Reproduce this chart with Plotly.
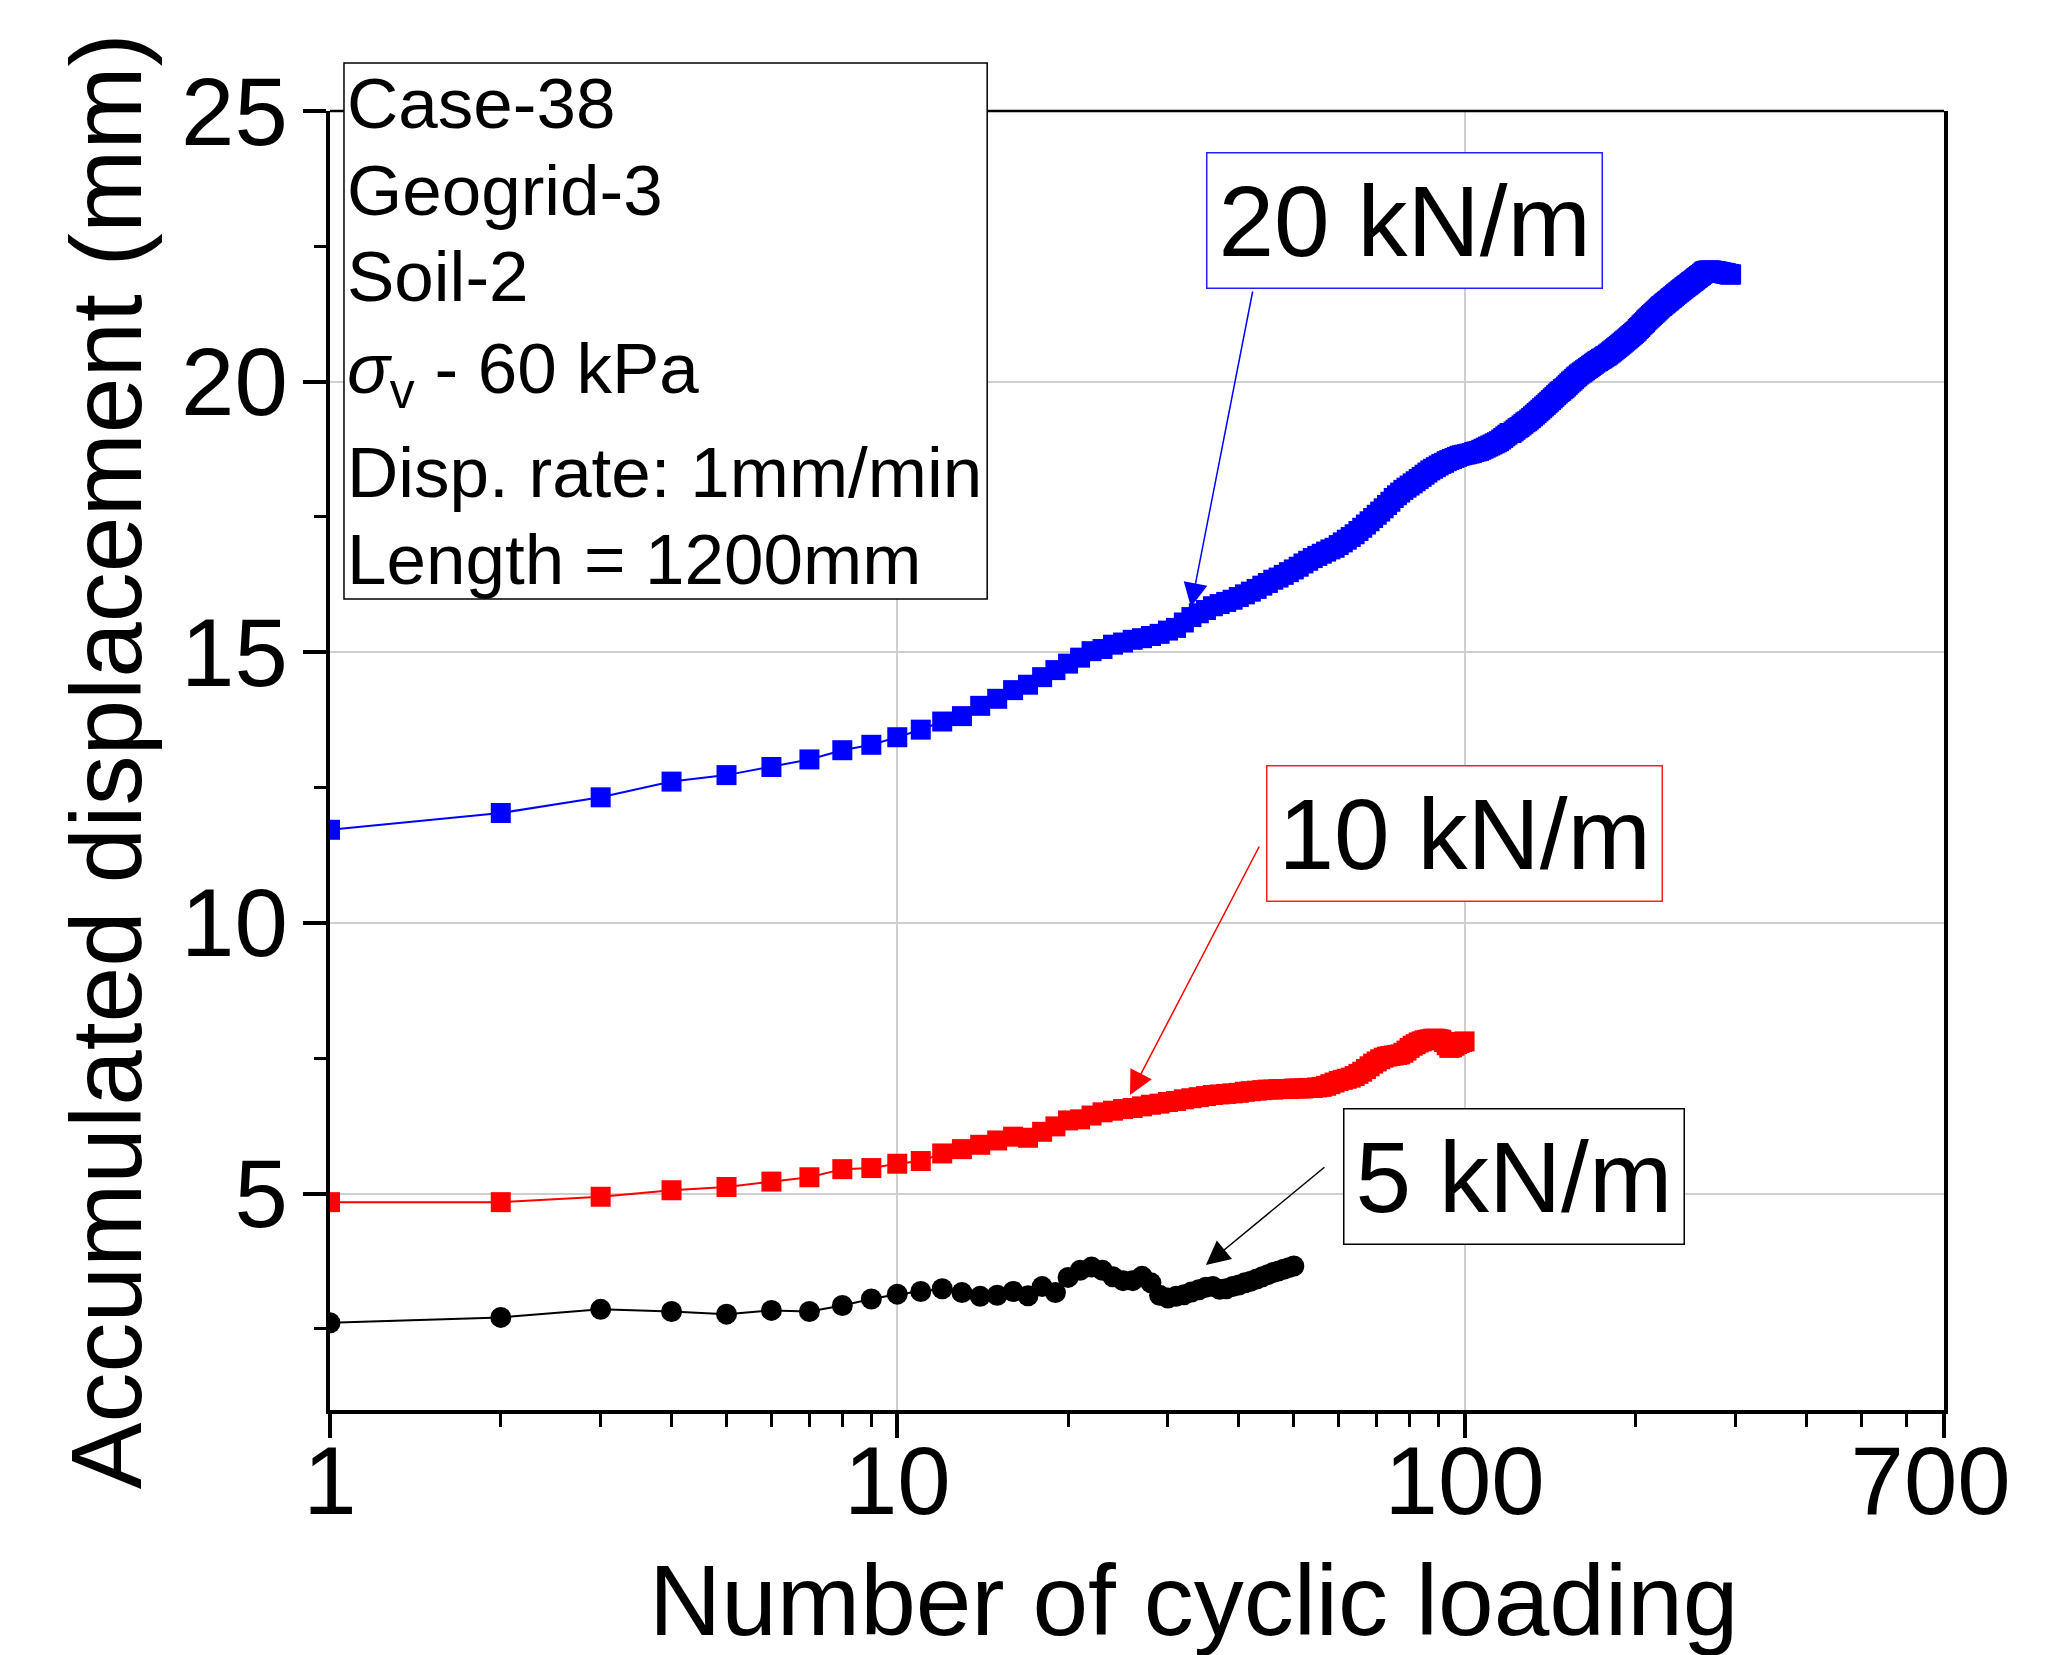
import plotly.graph_objects as go

# ---------------- data ----------------
disp_20 = [
    11.72, 12.03, 12.32, 12.61, 12.73, 12.88, 13.02, 13.19, 13.29, 13.43,
    13.57, 13.72, 13.82, 14.01, 14.14, 14.30, 14.40, 14.54, 14.67, 14.79,
    14.90, 15.02, 15.06, 15.14, 15.18, 15.23, 15.26, 15.30, 15.34, 15.40,
    15.45, 15.55, 15.65, 15.72, 15.78, 15.85, 15.89, 15.93, 15.97, 16.02,
    16.07, 16.12, 16.17, 16.23, 16.28, 16.34, 16.38, 16.43, 16.48, 16.53,
    16.58, 16.64, 16.69, 16.74, 16.78, 16.82, 16.86, 16.90, 16.93, 16.98,
    17.03, 17.08, 17.13, 17.18, 17.24, 17.30, 17.36, 17.42, 17.48, 17.54,
    17.60, 17.66, 17.72, 17.78, 17.85, 17.90, 17.95, 18.00, 18.04, 18.08,
    18.12, 18.16, 18.20, 18.24, 18.28, 18.32, 18.36, 18.39, 18.42, 18.45,
    18.48, 18.50, 18.53, 18.55, 18.57, 18.59, 18.61, 18.63, 18.64, 18.65,
    18.66, 18.67, 18.68, 18.70, 18.71, 18.72, 18.74, 18.76, 18.78, 18.80,
    18.82, 18.84, 18.86, 18.88, 18.90, 18.93, 18.96, 18.99, 19.02, 19.05,
    19.05, 19.08, 19.11, 19.14, 19.16, 19.19, 19.22, 19.25, 19.27, 19.30,
    19.33, 19.36, 19.39, 19.42, 19.45, 19.48, 19.51, 19.54, 19.57, 19.60,
    19.63, 19.66, 19.69, 19.72, 19.75, 19.78, 19.81, 19.83, 19.86, 19.88,
    19.91, 19.94, 19.97, 20.00, 20.02, 20.05, 20.08, 20.10, 20.13, 20.15,
    20.17, 20.19, 20.21, 20.23, 20.25, 20.27, 20.29, 20.31, 20.33, 20.35,
    20.37, 20.38, 20.40, 20.42, 20.43, 20.45, 20.47, 20.48, 20.50, 20.52,
    20.54, 20.56, 20.58, 20.60, 20.62, 20.64, 20.66, 20.68, 20.70, 20.72,
    20.74, 20.76, 20.78, 20.80, 20.82, 20.84, 20.86, 20.88, 20.90, 20.92,
    20.94, 20.97, 20.99, 21.01, 21.04, 21.06, 21.08, 21.10, 21.13, 21.15,
    21.17, 21.19, 21.21, 21.23, 21.25, 21.27, 21.29, 21.31, 21.33, 21.35,
    21.37, 21.39, 21.40, 21.42, 21.44, 21.45, 21.47, 21.49, 21.50, 21.52,
    21.54, 21.55, 21.57, 21.58, 21.60, 21.62, 21.63, 21.65, 21.66, 21.68,
    21.69, 21.71, 21.72, 21.74, 21.75, 21.77, 21.78, 21.79, 21.81, 21.82,
    21.84, 21.85, 21.86, 21.88, 21.89, 21.91, 21.92, 21.93, 21.95, 21.96,
    21.97, 21.99, 22.00, 22.02, 22.03, 22.04, 22.04, 22.05, 22.05, 22.05,
    22.05, 22.05, 22.05, 22.04, 22.04, 22.04, 22.04, 22.03, 22.03, 22.03,
    22.02, 22.02, 22.02, 22.01, 22.01, 22.01, 22.00, 22.00, 22.00, 21.99,
    21.99, 21.99, 21.98, 21.98, 21.98,
]

disp_10 = [
    4.84, 4.84, 4.94, 5.06, 5.12, 5.22, 5.30, 5.45, 5.47, 5.55,
    5.60, 5.74, 5.82, 5.90, 5.98, 6.05, 6.03, 6.14, 6.24, 6.35,
    6.37, 6.44, 6.50, 6.53, 6.56, 6.58, 6.61, 6.64, 6.66, 6.69,
    6.71, 6.74, 6.76, 6.78, 6.80, 6.82, 6.83, 6.84, 6.85, 6.86,
    6.88, 6.89, 6.90, 6.91, 6.92, 6.92, 6.93, 6.93, 6.93, 6.94,
    6.94, 6.94, 6.95, 6.95, 6.96, 6.97, 6.99, 7.02, 7.05, 7.08,
    7.10, 7.12, 7.14, 7.17, 7.21, 7.25, 7.30, 7.35, 7.40, 7.44,
    7.48, 7.51, 7.53, 7.54, 7.55, 7.56, 7.57, 7.60, 7.64, 7.69,
    7.73, 7.76, 7.79, 7.81, 7.83, 7.84, 7.85, 7.86, 7.86, 7.85,
    7.84, 7.80, 7.74, 7.69, 7.70, 7.73, 7.76, 7.78, 7.80, 7.81,
]

disp_5 = [
    2.61, 2.71, 2.86, 2.82, 2.77, 2.84, 2.82, 2.93, 3.05, 3.14,
    3.19, 3.24, 3.17, 3.10, 3.12, 3.19, 3.11, 3.28, 3.17, 3.45,
    3.58, 3.64, 3.58, 3.46, 3.39, 3.39, 3.47, 3.35, 3.12, 3.07,
    3.10, 3.13, 3.18, 3.22, 3.27, 3.28, 3.23, 3.24, 3.28, 3.31,
    3.35, 3.38, 3.42, 3.46, 3.50, 3.54, 3.57, 3.60, 3.63, 3.66,
]

cycles_20 = list(range(1, len(disp_20) + 1))
cycles_10 = list(range(1, len(disp_10) + 1))
cycles_5 = list(range(1, len(disp_5) + 1))

x_ticks = [1, 10, 100, 700]
x_tick_text = ["1", "10", "100", "700\u00a0"]
x_minor = [2, 3, 4, 5, 6, 7, 8, 9, 20, 30, 40, 50, 60, 70, 80, 90,
           200, 300, 400, 500, 600]
y_ticks = [5, 10, 15, 20, 25]
y_minor = [2.5, 7.5, 12.5, 17.5, 22.5]

info_lines = ["Case-38", "Geogrid-3", "Soil-2", "<i>σ</i><sub>v</sub> - 60 kPa",
              "Disp. rate: 1mm/min", "Length = 1200mm"]

# ---------------- layout geometry (pixels) ----------------
W, H = 2049, 1655
L, R, T, B = 330, 1946, 111, 1410
FONT = "Liberation Sans, Arial, sans-serif"


def pxx(p):
    return (p - L) / (R - L)


def pxy(p):
    return (B - p) / (B - T)


fig = go.Figure()

fig.add_trace(go.Scatter(
    x=cycles_5, y=disp_5, mode="lines+markers", name="5 kN/m",
    line=dict(color="black", width=2),
    marker=dict(symbol="circle", size=21, color="black"),
))
fig.add_trace(go.Scatter(
    x=cycles_10, y=disp_10, mode="lines+markers", name="10 kN/m",
    line=dict(color="#FF0000", width=2),
    marker=dict(symbol="square", size=20, color="#FF0000"),
))
fig.add_trace(go.Scatter(
    x=cycles_20, y=disp_20, mode="lines+markers", name="20 kN/m",
    line=dict(color="#0000FF", width=2),
    marker=dict(symbol="square", size=20, color="#0000FF"),
))

annotations = []

# info box text lines
line_centers = [104, 190, 276, 374, 472, 559]
for txt, yc in zip(info_lines, line_centers):
    annotations.append(dict(
        xref="paper", yref="paper", x=pxx(346), y=pxy(yc),
        xanchor="left", yanchor="middle", text=txt, showarrow=False,
        font=dict(family=FONT, size=71, color="black"), borderpad=0,
    ))

# arrows (tail -> tip)
arrows = [
    ((1254, 290), (1192, 607), "#0000FF"),
    ((1261, 845), (1131, 1095), "#FF0000"),
    ((1327, 1166), (1207, 1265), "black"),
]
for (tx, ty), (hx, hy), col in arrows:
    annotations.append(dict(
        xref="paper", yref="paper", x=pxx(hx), y=pxy(hy),
        ax=tx - hx, ay=ty - hy, axref="pixel", ayref="pixel",
        text="", showarrow=True, arrowhead=2, arrowsize=3.2, arrowwidth=1.5,
        arrowcolor=col, standoff=0,
    ))

# labelled boxes
labels = [
    ("20 kN/m", (1406, 221), "#2020FF"),
    ("10 kN/m", (1466, 833), "#FF2020"),
    ("5 kN/m", (1515, 1176), "black"),
]
for txt, (cx, cy), col in labels:
    annotations.append(dict(
        xref="paper", yref="paper", x=pxx(cx), y=pxy(cy),
        xanchor="center", yanchor="middle", text=txt, showarrow=False,
        font=dict(family=FONT, size=100, color="black"),
        bordercolor=col, borderwidth=1.5, borderpad=11, bgcolor="white",
    ))

# axis titles
annotations.append(dict(
    xref="paper", yref="paper", x=pxx(1195), y=pxy(1600),
    xanchor="center", yanchor="middle", text="Number of cyclic loading",
    showarrow=False, font=dict(family=FONT, size=100, color="black"),
))
annotations.append(dict(
    xref="paper", yref="paper", x=pxx(106), y=pxy(761),
    xanchor="center", yanchor="middle", text="Accumulated displacement (mm)",
    textangle=-90, showarrow=False,
    font=dict(family=FONT, size=100, color="black"),
))

shapes = [
    # top frame line
    dict(type="line", xref="paper", yref="paper", x0=0, x1=1, y0=1, y1=1,
         line=dict(color="black", width=2.5), layer="above"),
    # info box frame (white fill, drawn over the top frame line)
    dict(type="rect", xref="paper", yref="paper",
         x0=pxx(344), x1=pxx(988), y0=pxy(599), y1=pxy(63),
         line=dict(color="black", width=1.5), fillcolor="white", layer="above"),
]

fig.update_layout(
    width=W, height=H,
    margin=dict(l=L, r=W - R, t=T, b=H - B, pad=0),
    paper_bgcolor="white", plot_bgcolor="white",
    showlegend=False,
    font=dict(family=FONT, color="black"),
    annotations=annotations,
    shapes=shapes,
    xaxis=dict(
        type="log", range=[0, 2.845098], tickmode="array",
        tickvals=x_ticks, ticktext=x_tick_text,
        ticks="outside", ticklen=24, tickwidth=3.5, tickcolor="black",
        tickfont=dict(family=FONT, size=96, color="black"),
        ticklabelstandoff=-39, ticklabeloverflow="allow",
        showline=True, linewidth=4, linecolor="black", mirror=False,
        showgrid=True, gridcolor="#CFCFCF", gridwidth=1.5,
        zeroline=False,
        minor=dict(tickvals=x_minor, ticks="outside", ticklen=13,
                   tickwidth=3, tickcolor="black", showgrid=False),
    ),
    yaxis=dict(
        range=[1, 25], tickmode="array", tickvals=y_ticks,
        ticks="outside", ticklen=23, tickwidth=3.5, tickcolor="black",
        tickfont=dict(family=FONT, size=96, color="black"),
        ticklabelstandoff=-4,
        showline=True, linewidth=4, linecolor="black", mirror=True,
        showgrid=True, gridcolor="#CFCFCF", gridwidth=1.5,
        zeroline=False,
        minor=dict(tickvals=y_minor, ticks="outside", ticklen=12,
                   tickwidth=3, tickcolor="black", showgrid=False),
    ),
)

fig.write_html(
    "out.html",
    config={"displayModeBar": False},
    post_script="document.body.style.margin='0';"
                "document.body.style.overflow='hidden';",
)
